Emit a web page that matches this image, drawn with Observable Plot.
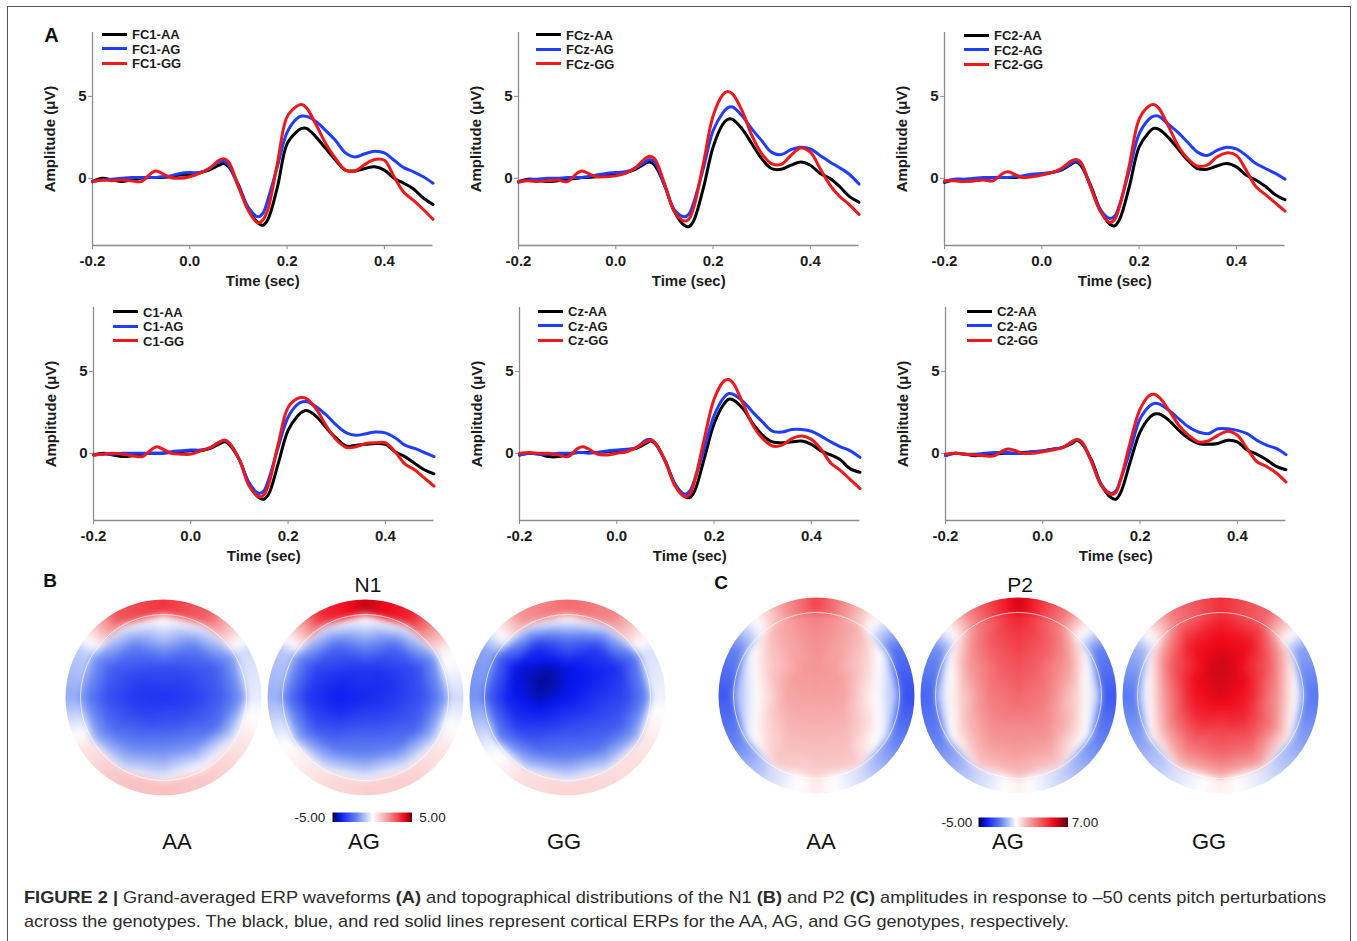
<!DOCTYPE html>
<html>
<head>
<meta charset="utf-8">
<script src="https://cdn.jsdelivr.net/npm/d3@7"></script>
<script src="https://cdn.jsdelivr.net/npm/@observablehq/plot@0.6"></script>
<style>
  html, body { margin: 0; padding: 0; background: #fff; }
  #fig { position: relative; width: 1357px; height: 941px; overflow: hidden; font-family: "Liberation Sans", Arial, sans-serif; color: #222; }
  #frame { position: absolute; left: 7px; top: 6px; width: 1344px; height: 960px; border: 1.5px solid #555; box-sizing: border-box; }
  .cap { position: absolute; left: 24px; white-space: nowrap; font-family: "Liberation Sans Narrow", "Liberation Sans", Arial, sans-serif; font-size: 17px; color: #2b2b2b; transform-origin: 0 50%; line-height: 1; }
</style>
</head>
<body>
<div id="fig"><div id="frame"></div></div>
<script>
// ---------------- DATA ----------------
const time = [-0.2,-0.18,-0.16,-0.14,-0.12,-0.1,-0.08,-0.07,-0.06,-0.04,-0.02,0,0.02,0.04,
  0.06,0.07,0.08,0.1,0.12,0.14,0.15,0.16,0.18,0.2,0.22,0.23,0.24,0.26,0.28,0.3,0.32,0.34,0.36,0.38,0.4,0.42,0.44,0.46,0.48,0.5];
const genotypes = ["AA", "AG", "GG"];
const electrodes = ["FC1", "FCz", "FC2", "C1", "Cz", "C2"];
const xTicks = [-0.2, 0.0, 0.2, 0.4];
const yTicks = [0, 5];

const FC1_AA = [-0.2,0.0,-0.1,-0.2,-0.1,0.0,0.05,0.05,0.05,0.1,0.2,0.25,0.35,0.5,
  0.8,0.9,0.7,-0.4,-1.85,-2.7,-2.87,-2.55,-0.55,2.1,2.85,3.05,3.05,2.5,1.8,1.1,0.5,0.45,0.6,0.7,0.5,0.0,-0.3,-0.65,-1.2,-1.6];
const FC1_AG = [-0.2,-0.1,-0.05,0.0,0.05,0.05,0.05,0.05,0.1,0.15,0.3,0.35,0.35,0.6,
  1.0,1.05,0.8,-0.5,-1.75,-2.35,-2.15,-1.35,0.7,2.8,3.65,3.8,3.78,3.45,2.9,2.3,1.55,1.3,1.5,1.65,1.55,1.1,0.65,0.4,0.1,-0.3];
const FC1_GG = [-0.2,-0.1,-0.15,-0.1,-0.15,-0.2,0.3,0.45,0.35,0.05,0.0,0.1,0.3,0.6,
  1.1,1.2,1.0,-0.5,-1.95,-2.72,-2.55,-1.95,0.9,3.75,4.4,4.5,4.3,3.25,2.1,1.2,0.5,0.45,0.85,1.15,1.1,0.1,-0.85,-1.35,-1.9,-2.5];

const FCz_AA = [-0.2,-0.05,-0.1,-0.2,-0.15,-0.05,0.0,0.05,0.05,0.1,0.2,0.25,0.35,0.55,
  0.9,1.0,0.8,-0.4,-2.0,-2.85,-2.95,-2.6,-0.6,1.9,3.3,3.6,3.6,3.0,2.1,1.2,0.6,0.55,0.8,1.0,0.8,0.3,0.0,-0.5,-1.1,-1.45];
const FCz_AG = [-0.25,-0.1,-0.05,0.0,0.0,0.05,0.05,0.05,0.1,0.2,0.3,0.35,0.4,0.6,
  1.0,1.15,1.0,-0.4,-1.9,-2.35,-2.2,-1.5,0.6,2.9,4.0,4.3,4.35,3.8,3.0,2.3,1.6,1.45,1.75,1.9,1.8,1.4,1.0,0.65,0.25,-0.35];
const FCz_GG = [-0.2,-0.15,-0.2,-0.15,-0.1,-0.2,0.3,0.45,0.35,0.1,0.1,0.15,0.3,0.65,
  1.2,1.35,1.2,-0.3,-2.0,-2.6,-2.5,-1.8,0.9,3.8,5.1,5.3,5.15,4.1,2.6,1.5,0.9,0.85,1.4,1.85,1.6,0.6,-0.4,-1.1,-1.6,-2.2];

const FC2_AA = [-0.25,-0.1,-0.15,-0.15,-0.05,0.05,0.05,0.05,0.05,0.1,0.2,0.25,0.35,0.5,
  0.85,1.0,0.8,-0.4,-1.9,-2.8,-2.9,-2.5,-0.5,1.9,2.8,3.05,3.0,2.5,1.8,1.1,0.6,0.55,0.75,0.9,0.7,0.2,-0.1,-0.5,-1.0,-1.3];
const FC2_AG = [-0.2,-0.05,-0.05,0.0,0.05,0.05,0.05,0.05,0.1,0.15,0.25,0.3,0.35,0.55,
  0.9,1.05,0.9,-0.5,-1.9,-2.45,-2.3,-1.6,0.5,2.7,3.6,3.8,3.8,3.3,2.8,2.2,1.6,1.4,1.7,1.9,1.8,1.4,0.9,0.6,0.3,-0.05];
const FC2_GG = [-0.15,-0.15,-0.2,-0.15,-0.1,-0.15,0.3,0.4,0.3,0.05,0.1,0.2,0.35,0.6,
  1.05,1.15,1.0,-0.5,-2.0,-2.7,-2.5,-1.7,0.8,3.6,4.4,4.5,4.3,3.2,2.0,1.2,0.75,0.8,1.3,1.55,1.4,0.5,-0.5,-1.0,-1.5,-2.0];

const C1_AA = [-0.1,0.0,-0.1,-0.2,-0.15,-0.05,0.0,0.0,0.0,0.05,0.1,0.15,0.15,0.3,
  0.6,0.7,0.5,-0.4,-1.9,-2.7,-2.8,-2.5,-0.6,1.4,2.3,2.55,2.6,2.2,1.5,0.9,0.45,0.5,0.55,0.6,0.55,0.1,-0.2,-0.6,-1.0,-1.25];
const C1_AG = [-0.1,-0.05,-0.05,0.0,0.0,0.0,0.0,0.0,0.0,0.1,0.15,0.2,0.2,0.35,
  0.7,0.8,0.6,-0.4,-1.8,-2.45,-2.3,-1.6,0.4,2.2,3.0,3.15,3.15,2.8,2.3,1.7,1.25,1.1,1.2,1.3,1.25,0.95,0.5,0.3,0.05,-0.2];
const C1_GG = [-0.1,-0.05,0.0,-0.05,-0.15,-0.2,0.25,0.4,0.3,0.0,-0.05,-0.05,0.15,0.35,
  0.7,0.8,0.6,-0.4,-2.0,-2.65,-2.55,-1.9,0.6,2.8,3.35,3.4,3.3,2.6,1.6,0.8,0.35,0.4,0.6,0.65,0.65,0.1,-0.65,-1.0,-1.5,-2.0];

const Cz_AA = [-0.1,0.0,-0.05,-0.2,-0.2,-0.05,0.05,0.05,0.05,0.05,0.1,0.15,0.2,0.3,
  0.6,0.75,0.55,-0.5,-1.9,-2.65,-2.7,-2.3,-0.3,1.8,3.0,3.3,3.25,2.7,1.8,1.1,0.7,0.65,0.7,0.75,0.55,0.15,-0.1,-0.4,-0.95,-1.15];
const Cz_AG = [-0.1,0.0,-0.05,-0.05,0.0,0.0,0.05,0.05,0.0,0.05,0.15,0.2,0.25,0.35,
  0.8,0.85,0.6,-0.5,-1.9,-2.5,-2.3,-1.6,0.3,2.3,3.4,3.65,3.6,3.15,2.5,1.9,1.35,1.3,1.45,1.45,1.35,1.05,0.7,0.4,0.15,-0.25];
const Cz_GG = [0.0,0.05,0.0,0.0,-0.1,-0.2,0.3,0.4,0.3,-0.05,-0.1,0.0,0.1,0.35,
  0.7,0.8,0.6,-0.5,-2.0,-2.65,-2.5,-1.7,0.9,3.3,4.4,4.5,4.25,3.0,1.7,0.9,0.45,0.5,0.9,1.05,0.85,0.25,-0.6,-1.05,-1.6,-2.15];

const C2_AA = [-0.1,0.0,-0.05,-0.15,-0.1,-0.05,0.0,0.0,0.0,0.05,0.1,0.15,0.25,0.35,
  0.6,0.8,0.6,-0.4,-1.9,-2.7,-2.8,-2.4,-0.5,1.3,2.2,2.4,2.4,2.0,1.4,0.9,0.6,0.55,0.6,0.8,0.7,0.2,-0.05,-0.4,-0.8,-1.0];
const C2_AG = [-0.15,0.0,-0.05,-0.05,0.0,0.05,0.05,0.05,0.0,0.0,0.1,0.15,0.25,0.35,
  0.7,0.85,0.7,-0.5,-1.9,-2.45,-2.3,-1.6,0.2,2.1,2.9,3.05,3.0,2.6,2.1,1.6,1.3,1.2,1.5,1.5,1.4,1.2,0.8,0.5,0.3,-0.08];
const C2_GG = [-0.05,0.0,-0.05,-0.1,-0.15,-0.15,0.2,0.27,0.2,0.0,0.0,0.1,0.2,0.35,
  0.7,0.85,0.7,-0.5,-1.95,-2.5,-2.4,-1.6,0.7,2.7,3.55,3.6,3.4,2.6,1.7,1.1,0.7,0.75,1.1,1.35,1.1,0.3,-0.5,-0.8,-1.2,-1.75];

// Topographic maps: estimated amplitudes (µV) at sample angles (deg, 0 = right, 90 = front/top)
const sampleAngles = [0, 30, 60, 90, 120, 150, 180, 210, 240, 270, 300, 330];
// N1 (panel B)
const N1_AA_center = -3.5;
const N1_AA_r30  = [-3.3,-3.2,-3.1,-3.0,-3.1,-3.3,-3.4,-3.2,-3.0,-2.8,-2.9,-3.1];
const N1_AA_r60  = [-2.7,-2.7,-2.1,-1.0,-2.1,-2.7,-2.9,-2.5,-1.9,-1.6,-1.7,-2.4];
const N1_AA_r83  = [-1.5,-1.5,-0.3,0.3,-0.3,-1.5,-1.8,-1.2,-0.6,-0.3,0.0,-0.4];
const N1_AA_ring = [-0.3,-0.6,2.7,3.4,2.9,-0.8,-1.4,0.4,1.1,1.2,1.0,0.5];
const N1_AG_center = -3.7;
const N1_AG_r30  = [-3.4,-3.5,-3.5,-3.4,-3.5,-3.7,-3.9,-3.6,-3.1,-2.9,-3.0,-3.2];
const N1_AG_r60  = [-2.9,-3.0,-2.5,-1.4,-2.5,-3.1,-3.4,-2.9,-2.2,-1.9,-2.1,-2.6];
const N1_AG_r83  = [-1.5,-1.5,-0.3,0.3,-0.4,-1.6,-2.0,-1.2,-0.5,-0.3,-0.3,-0.8];
const N1_AG_ring = [-0.6,0.2,3.6,4.3,3.4,-0.9,-1.3,0.0,0.6,0.9,0.9,0.4];
const N1_GG_center = -4.0;
const N1_GG_r30  = [-3.5,-3.8,-4.0,-4.1,-4.4,-4.5,-4.3,-3.9,-3.4,-3.1,-3.1,-3.3];
const N1_GG_r60  = [-3.1,-3.5,-3.2,-2.2,-3.5,-4.1,-3.9,-3.3,-2.5,-2.1,-2.3,-2.7];
const N1_GG_r83  = [-1.8,-2.0,-0.6,0.3,-0.6,-2.4,-2.6,-1.8,-0.8,-0.5,-0.6,-1.2];
const N1_GG_ring = [-0.2,-0.5,2.2,2.6,2.0,-1.5,-1.8,-0.3,0.6,0.8,0.7,0.5];
// P2 (panel C)
const P2_AA_center = 1.8;
const P2_AA_r30  = [1.7,1.8,1.9,2.0,1.9,1.8,1.7,1.6,1.5,1.5,1.5,1.6];
const P2_AA_r60  = [0.1,0.8,1.6,2.2,1.6,0.8,0.1,0.7,1.2,1.2,1.2,0.7];
const P2_AA_r83  = [-1.2,-0.5,1.5,2.5,1.5,-0.5,-1.2,-0.5,1.0,0.8,1.0,-0.5];
const P2_AA_ring = [-3.0,-2.3,1.0,3.8,1.0,-2.0,-2.8,-2.0,-0.6,0.4,-0.6,-2.0];
const P2_AG_center = 3.0;
const P2_AG_r30  = [2.5,2.8,3.2,3.5,3.2,2.8,2.5,2.4,2.4,2.3,2.4,2.4];
const P2_AG_r60  = [0.8,1.8,3.2,4.0,3.2,1.8,0.8,1.3,1.8,1.8,1.8,1.3];
const P2_AG_r83  = [-1.0,-0.2,2.5,4.5,2.5,-0.2,-1.0,-0.3,1.0,1.2,1.0,-0.3];
const P2_AG_ring = [-2.8,-2.0,2.5,5.5,2.5,-1.8,-2.6,-2.0,-0.8,0.3,-0.8,-2.0];
const P2_GG_center = 5.3;
const P2_GG_r30  = [4.6,5.0,5.2,5.5,5.2,5.0,4.6,4.5,4.3,4.0,4.3,4.5];
const P2_GG_r60  = [1.8,3.0,4.8,5.0,4.6,3.0,1.6,2.2,2.8,3.0,3.0,2.5];
const P2_GG_r83  = [-0.8,0.5,3.5,4.2,3.0,0.3,-1.0,0.0,1.3,1.5,1.5,0.2];
const P2_GG_ring = [-2.2,-1.5,3.0,4.2,2.6,-1.2,-2.2,-1.5,-0.5,0.3,-0.5,-1.5];

const n1Domain = [-5, 5];
const p2Domain = [-5, 7];
const lineColors = ["#000000", "#1f3dff", "#f01818"];

// ---------------- HELPERS ----------------
const fig = document.getElementById("fig");
const FONT = "'Liberation Sans', Arial, sans-serif";
function place(node, left, top) {
  node.style.position = "absolute";
  node.style.left = left + "px";
  node.style.top = top + "px";
  fig.appendChild(node);
  return node;
}
function label(text, cx, cy, css) {
  const d = document.createElement("div");
  d.textContent = text;
  d.style.cssText = `position:absolute;left:${cx}px;top:${cy}px;transform:translate(-50%,-50%);white-space:nowrap;line-height:1;font-family:${FONT};${css}`;
  fig.appendChild(d);
  return d;
}

const waves = {
  FC1: [FC1_AA, FC1_AG, FC1_GG], FCz: [FCz_AA, FCz_AG, FCz_GG], FC2: [FC2_AA, FC2_AG, FC2_GG],
  C1: [C1_AA, C1_AG, C1_GG], Cz: [Cz_AA, Cz_AG, Cz_GG], C2: [C2_AA, C2_AG, C2_GG]
};

// panel layout: y-axis x position, top of frame, legend line start x, legend first row y
const layout = [
  {ax: 92,  top: 32,  lx: 102, ly: 34},
  {ax: 518, top: 32,  lx: 536, ly: 34.5},
  {ax: 944, top: 32,  lx: 964, ly: 35},
  {ax: 93,  top: 307, lx: 113, ly: 311.5},
  {ax: 519, top: 307, lx: 538, ly: 311},
  {ax: 945, top: 307, lx: 967, ly: 311}
];

function erpPlot(e) {
  const data = [];
  waves[e].forEach((vals, gi) => vals.forEach((v, i) => data.push({t: time[i], v, g: genotypes[gi]})));
  const axisStyle = {stroke: "#8c8c8c", fill: "#1c1c1c", fontWeight: "bold", fontSize: 15, tickSize: 4, label: null};
  return Plot.plot({
    width: 411, height: 273,
    marginLeft: 60, marginRight: 10.5, marginTop: 10, marginBottom: 50,
    style: {fontFamily: FONT, background: "transparent", overflow: "visible"},
    x: {domain: [-0.2, 0.5]},
    y: {domain: [-4.1, 8.9]},
    color: {domain: genotypes, range: lineColors},
    marks: [
      Plot.ruleX([-0.2], {stroke: "#8c8c8c", strokeWidth: 1.3}),
      Plot.ruleY([-4.1], {stroke: "#8c8c8c", strokeWidth: 1.3}),
      Plot.axisX({...axisStyle, ticks: xTicks, tickPadding: 6, tickFormat: d => d.toFixed(1)}),
      Plot.axisY({...axisStyle, ticks: yTicks, tickPadding: 2, tickFormat: d => String(d)}),
      Plot.line(data, {x: "t", y: "v", z: "g", stroke: "g", strokeWidth: 3, curve: "catmull-rom"}),
      Plot.text(["Time (sec)"], {frameAnchor: "bottom", lineAnchor: "middle", textAnchor: "middle", dy: 36, fontSize: 15, fontWeight: "bold", fill: "#1c1c1c"}),
      Plot.text(["Amplitude (μV)"], {frameAnchor: "left", lineAnchor: "middle", textAnchor: "middle", dx: -42, rotate: -90, fontSize: 15, fontWeight: "bold", fill: "#1c1c1c"})
    ]
  });
}

electrodes.forEach((e, k) => {
  const L = layout[k];
  place(erpPlot(e), L.ax - 60, L.top - 10);
  genotypes.forEach((g, gi) => {
    const y = L.ly + gi * 14.5;
    const ln = document.createElement("div");
    ln.style.cssText = `position:absolute;left:${L.lx}px;top:${y - 1.5}px;width:25px;height:3px;background:${lineColors[gi]};`;
    fig.appendChild(ln);
    const t = document.createElement("div");
    t.textContent = `${e}-${g}`;
    t.style.cssText = `position:absolute;left:${L.lx + 30}px;top:${y}px;transform:translateY(-50%);font:bold 13px ${FONT};color:#1c1c1c;line-height:1;white-space:nowrap;`;
    fig.appendChild(t);
  });
});

// ---- topographic maps ----
const colorStops = ["#000033", "#0818f0", "#6484f2", "#ffffff", "#f59595", "#f00a1a", "#55000f"];
const n1Color = {type: "linear", domain: [-5, -4, -2, 0, 2, 4, 5], range: colorStops, clamp: true};
const p2Color = {type: "linear", domain: [-5, -4, -2, 0, 2, 5, 7], range: colorStops, clamp: true};

function topoSamples(center, r30, r60, r83, ring) {
  const pts = [{x: 0, y: 0, v: center}];
  const rings = [[0.3, r30], [0.6, r60], [0.83, r83], [0.87, ring], [0.95, ring], [1.04, ring]];
  for (const [r, vals] of rings) {
    sampleAngles.forEach((a, i) => {
      const th = a * Math.PI / 180;
      pts.push({x: r * Math.cos(th), y: r * Math.sin(th), v: vals[i]});
    });
  }
  return pts;
}

function topoPlot(samples, color) {
  const c = [{x: 0, y: 0}];
  return Plot.plot({
    width: 198, height: 198, margin: 0,
    style: {background: "transparent"},
    x: {domain: [-1.01, 1.01], axis: null},
    y: {domain: [-1.01, 1.01], axis: null},
    color,
    marks: [
      Plot.raster(samples, {x: "x", y: "y", fill: "v", interpolate: "barycentric", blur: 3}),
      Plot.dot(c, {x: "x", y: "y", r: 121, stroke: "white", strokeWidth: 46, fill: "none"}),
      Plot.dot(c, {x: "x", y: "y", r: 83, stroke: "white", strokeWidth: 0.8, strokeOpacity: 0.85, fill: "none"})
    ]
  });
}

const topoMaps = [
  {s: topoSamples(N1_AA_center, N1_AA_r30, N1_AA_r60, N1_AA_r83, N1_AA_ring), c: n1Color, cx: 163, cy: 697},
  {s: topoSamples(N1_AG_center, N1_AG_r30, N1_AG_r60, N1_AG_r83, N1_AG_ring), c: n1Color, cx: 365, cy: 697},
  {s: topoSamples(N1_GG_center, N1_GG_r30, N1_GG_r60, N1_GG_r83, N1_GG_ring), c: n1Color, cx: 567, cy: 697},
  {s: topoSamples(P2_AA_center, P2_AA_r30, P2_AA_r60, P2_AA_r83, P2_AA_ring), c: p2Color, cx: 816, cy: 695},
  {s: topoSamples(P2_AG_center, P2_AG_r30, P2_AG_r60, P2_AG_r83, P2_AG_ring), c: p2Color, cx: 1018, cy: 695},
  {s: topoSamples(P2_GG_center, P2_GG_r30, P2_GG_r60, P2_GG_r83, P2_GG_ring), c: p2Color, cx: 1220, cy: 695}
];
topoMaps.forEach(m => place(topoPlot(m.s, m.c), m.cx - 99, m.cy - 99));

function colorBar(domain, color, w) {
  return Plot.plot({
    width: w, height: 10, margin: 0,
    x: {domain, axis: null}, y: {domain: [0, 1], axis: null},
    color,
    marks: [Plot.raster({fill: (x, y) => x, x1: domain[0], x2: domain[1], y1: 0, y2: 1})]
  });
}
place(colorBar(n1Domain, n1Color, 80), 332, 812);
place(colorBar(p2Domain, p2Color, 90), 978, 817);
label("-5.00", 310, 817.5, "font-size:13.5px;color:#222;");
label("5.00", 432.5, 817.5, "font-size:13.5px;color:#222;");
label("-5.00", 957, 822.5, "font-size:13.5px;color:#222;");
label("7.00", 1085, 822.5, "font-size:13.5px;color:#222;");

// ---- texts ----
label("A", 51.5, 35, "font-size:20px;font-weight:bold;color:#111;");
label("B", 50, 580, "font-size:19px;font-weight:bold;color:#111;");
label("C", 721, 582, "font-size:19px;font-weight:bold;color:#111;");
label("N1", 368, 584, "font-size:21px;color:#111;");
label("P2", 1020, 584, "font-size:21px;color:#111;");
[["AA", 177], ["AG", 364], ["GG", 564], ["AA", 821], ["AG", 1008], ["GG", 1209]].forEach(([t, x]) =>
  label(t, x, 842, "font-size:22px;color:#111;"));

// ---- caption ----
function capLine(html, top, targetWidth) {
  const d = document.createElement("div");
  d.className = "cap";
  d.innerHTML = html;
  d.style.top = top + "px";
  fig.appendChild(d);
  const w = d.getBoundingClientRect().width;
  if (w > 0) d.style.transform = `scaleX(${targetWidth / w})`;
  return d;
}
capLine('<b>FIGURE 2 |</b> Grand-averaged ERP waveforms <b>(A)</b> and topographical distributions of the N1 <b>(B)</b> and P2 <b>(C)</b> amplitudes in response to \u201350 cents pitch perturbations', 889, 1302);
capLine('across the genotypes. The black, blue, and red solid lines represent cortical ERPs for the AA, AG, and GG genotypes, respectively.', 913, 1045);
</script>
</body>
</html>
